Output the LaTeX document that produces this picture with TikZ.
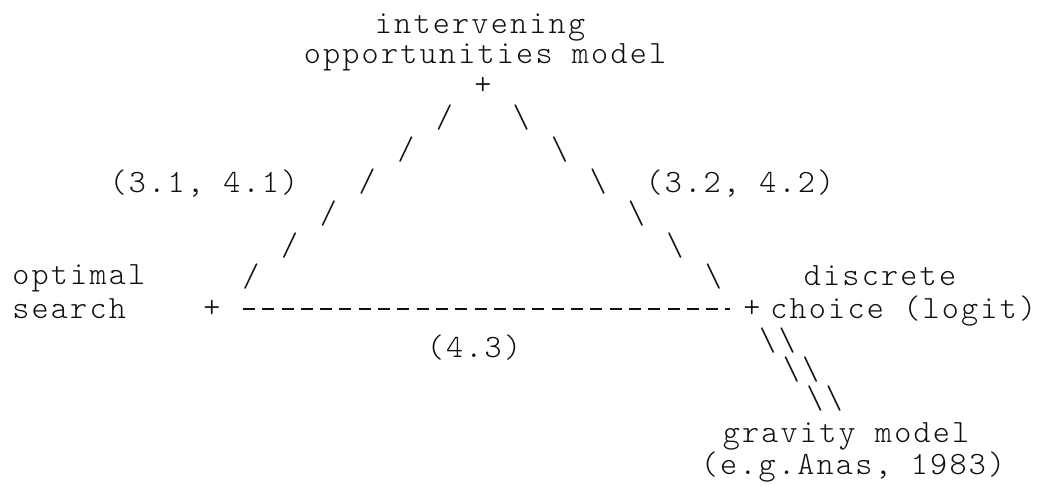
\documentclass[tikz,border=0pt]{standalone}
\usepackage{fontspec}
\usepackage{tikz}
\usetikzlibrary{decorations.markings}
\newfontfamily\typefont{lmmonolt10-regular}[Extension=.otf, LetterSpace=6.9]
\newcommand{\typesize}{\fontsize{18.5pt}{22pt}\selectfont}
\definecolor{myink}{RGB}{15,15,15}
\tikzset{
  lbl/.style={font=\typefont\typesize, inner sep=0pt, anchor=base, text=myink},
  junc/.style={font=\typefont\typesize, inner sep=0pt, text=myink},
  leftedge/.style={postaction={decorate}, decoration={markings,
      mark=between positions 0.142 and 0.86 step 0.1429 with {\node[junc] {/};}}},
  rightedge/.style={postaction={decorate}, decoration={markings,
      mark=between positions 0.142 and 0.86 step 0.1429 with {\node[junc] {\textbackslash};}}},
  baseedge/.style={draw=myink, line width=0.7pt, dash pattern=on 0.24cm off 0.146cm,
    shorten <=0.62cm, shorten >=0.44cm},
  gravedge/.style={postaction={decorate}, decoration={markings,
      mark=at position 0.28 with {\node[junc] {\textbackslash\textbackslash};},
      mark=at position 0.54 with {\node[junc] {\textbackslash\textbackslash};},
      mark=at position 0.8 with {\node[junc] {\textbackslash\textbackslash};}}}
}

\begin{document}
\begin{tikzpicture}[x=0.02cm, y=-0.02cm]
  \useasboundingbox (0,0) rectangle (1048,485);

  \node[lbl] (ivn) at (480,33) {intervening};
  \node[lbl] (opm) at (485,63) {opportunities model};
  \node[junc] (iop) at (483,86) {+};

  \node[lbl] (l31) at (204,192) {(3.1, 4.1)};
  \node[lbl] (l32) at (740,192) {(3.2, 4.2)};

  \node[lbl, anchor=base west] (opt) at (12,284) {optimal};
  \node[lbl, anchor=base west] (srch) at (12,318) {search};
  \node[junc] (osp) at (212,309) {+};

  \node[lbl] (dis) at (880,285) {discrete};
  \node[lbl, anchor=base west] (chl) at (770,318) {choice (logit)};
  \node[junc] (dcp) at (752,309) {+};

  \node[lbl] (l43) at (474,357) {(4.3)};

  \node[lbl] (grv) at (846,442) {gravity model};
  \node[lbl] (anas) at (853,474) {(e.g.Anas, 1983)};

  \path[leftedge] (iop.center) -- (osp.center);
  \path[rightedge] (iop.center) -- (dcp.center);
  \draw[baseedge] (osp.center) -- (dcp.center);
  \path[gravedge] (dcp.center) -- ([xshift=-0.06cm]grv.north);
\end{tikzpicture}
\end{document}
